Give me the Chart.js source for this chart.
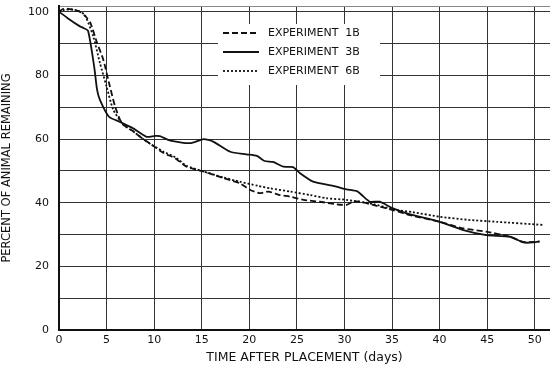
<!DOCTYPE html>
<html>
<head>
<meta charset="utf-8">
<script src="https://cdn.jsdelivr.net/npm/chart.js@4"></script>
<style>
  html, body { margin: 0; padding: 0; background: #fff; }
  #wrap { width: 550px; height: 370px; }
</style>
</head>
<body>
<div id="wrap"><canvas id="survivalChart"></canvas></div>
<script>
// Experiment 1B (dashed)
const days1B = [0, 0.4, 0.8, 1.5, 2.2, 2.8, 3.3, 4, 4.65, 5.35, 5.9, 6.6, 7.8, 8.85, 9.6, 11, 12.2, 13.4, 15.2, 17.3, 19, 20.1, 21.1, 22, 23.2, 24.3, 25.7, 27.4, 29.2, 30.2, 30.9, 31.6, 33, 35.1, 36.9, 40, 42.5, 44.9, 47.4, 48.8, 50.5];
const pct1B = [100, 100.8, 101, 100.6, 100, 98.5, 96.5, 90.2, 85, 76.5, 70.2, 65, 62.4, 60, 58.5, 55.6, 54, 51.3, 49.8, 47.7, 46.1, 44, 43, 43.5, 42.4, 41.9, 40.9, 40.3, 39.5, 39.3, 40.3, 40.3, 39.3, 37.7, 36.1, 34, 31.9, 30.9, 29.3, 27.7, 27.7];

// Experiment 3B (solid)
const days3B = [0, 0.95, 2.2, 2.5, 3.05, 3.7, 4.0, 4.3, 5.25, 6.4, 7.7, 9.2, 10.1, 10.6, 11.7, 13.8, 15.2, 16.2, 18, 19.7, 20.8, 21.6, 22.5, 23.6, 24.6, 25.3, 26.7, 28.8, 30.2, 31.4, 32, 32.7, 33.7, 35.1, 36.9, 40, 42.5, 44.9, 47.4, 48.8, 49.8, 50.5];
const pct3B = [100, 97.9, 95.4, 95, 94, 82.7, 75.5, 72.3, 67, 65.4, 63.5, 60.7, 61, 60.9, 59.5, 58.7, 60, 59.2, 56, 55.2, 54.7, 53.1, 52.8, 51.3, 51.2, 49.3, 46.6, 45.3, 44.2, 43.5, 41.9, 40.3, 40.3, 38.2, 36.3, 34, 31.4, 29.8, 29.3, 27.5, 27.5, 27.9];

// Experiment 6B (dotted)
const days6B = [0, 0.5, 1.2, 2, 2.7, 3.6, 4.3, 5, 5.7, 6.75, 7.8, 9.2, 11, 12.2, 13.4, 15.2, 17.3, 19, 20.9, 22.2, 24.3, 26.4, 28.1, 30.2, 33, 35.1, 37.2, 40, 43, 46, 50.9];
const pct6B = [100, 100.5, 100.8, 100.3, 99, 92.3, 83.9, 76.5, 69.2, 64.5, 62.4, 59.2, 56, 54.3, 51.6, 49.8, 47.9, 46.6, 45.3, 44.5, 43.5, 42.4, 41.4, 40.9, 39.6, 37.9, 37, 35.6, 34.6, 34, 33];

// axis ticks
const dayTicks = [0, 5, 10, 15, 20, 25, 30, 35, 40, 45, 50];
const pctTicks = [0, 10, 20, 30, 40, 50, 60, 70, 80, 90, 100];
const pctLabels = [0, 20, 40, 60, 80, 100];

const seriesLabels = ["EXPERIMENT  1B", "EXPERIMENT  3B", "EXPERIMENT  6B"];
const dashes = [[6, 3], [], [2, 2]];

const X_MAX = 51.6;
const Y_MAX = 101.8;

function toPoints(xs, ys) {
  return xs.map((x, i) => ({ x, y: ys[i] }));
}

const FONT = "'DejaVu Sans', sans-serif";

// legend drawn in a white box inside the plot, over the grid
const boxedLegend = {
  id: "boxedLegend",
  beforeDatasetsDraw(chart) {
    const { ctx } = chart;
    ctx.save();
    ctx.fillStyle = "#fff";
    ctx.fillRect(218, 24, 162, 61);
    seriesLabels.forEach((label, i) => {
      const y = 33 + i * 19;
      ctx.beginPath();
      ctx.setLineDash(dashes[i]);
      ctx.lineWidth = 1.8;
      ctx.strokeStyle = "#111";
      ctx.moveTo(223, y);
      ctx.lineTo(259, y);
      ctx.stroke();
      ctx.setLineDash([]);
      ctx.fillStyle = "#111";
      ctx.font = "11px " + FONT;
      ctx.textBaseline = "middle";
      ctx.fillText(label, 268, y + 0.5);
    });
    ctx.restore();
  },
};

const ctx = document.getElementById("survivalChart").getContext("2d");

new Chart(ctx, {
  type: "scatter",
  data: {
    datasets: [
      { label: seriesLabels[0], data: toPoints(days1B, pct1B), borderDash: dashes[0] },
      { label: seriesLabels[1], data: toPoints(days3B, pct3B), borderDash: dashes[1] },
      { label: seriesLabels[2], data: toPoints(days6B, pct6B), borderDash: dashes[2] },
    ].map((ds) => ({
      ...ds,
      showLine: true,
      borderColor: "#111",
      borderWidth: 1.8,
      pointRadius: 0,
      tension: 0.2,
      fill: false,
    })),
  },
  options: {
    responsive: true,
    maintainAspectRatio: false,
    animation: false,
    layout: { padding: { top: 6, right: 0, left: 0, bottom: 0 } },
    plugins: {
      legend: { display: false },
      tooltip: { enabled: false },
    },
    scales: {
      x: {
        type: "linear",
        min: 0,
        max: X_MAX,
        afterBuildTicks(scale) {
          scale.ticks = dayTicks.map((v) => ({ value: v }));
        },
        afterFit(scale) {
          scale.height = 40;
          scale.paddingRight = 0;
        },
        ticks: {
          autoSkip: false,
          maxRotation: 0,
          padding: 4,
          color: "#111",
          font: { size: 11, family: FONT },
        },
        grid: {
          color: "#333",
          lineWidth: 1,
          drawTicks: false,
        },
        border: { color: "#111", width: 2 },
        title: {
          display: true,
          text: "TIME AFTER PLACEMENT (days)",
          color: "#111",
          font: { size: 12.5, family: FONT },
          padding: { top: 0, bottom: 5 },
        },
      },
      y: {
        min: 0,
        max: Y_MAX,
        afterBuildTicks(scale) {
          scale.ticks = pctTicks.concat([Y_MAX]).map((v) => ({ value: v }));
        },
        afterFit(scale) {
          scale.width = 59;
          scale.paddingTop = 0;
          scale.paddingBottom = 0;
        },
        ticks: {
          autoSkip: false,
          padding: 10,
          color: "#111",
          font: { size: 11, family: FONT },
          callback: (v) => (pctLabels.includes(v) ? v : ""),
        },
        grid: {
          color: (c) => (c.tick && c.tick.value === Y_MAX ? "#888" : "#333"),
          lineWidth: 1,
          drawTicks: false,
        },
        border: { color: "#111", width: 2 },
        title: {
          display: true,
          text: "PERCENT OF ANIMAL REMAINING",
          color: "#111",
          font: { size: 11.5, family: FONT },
          padding: { top: 0, bottom: 8 },
        },
      },
    },
  },
  plugins: [boxedLegend],
});
</script>
</body>
</html>
